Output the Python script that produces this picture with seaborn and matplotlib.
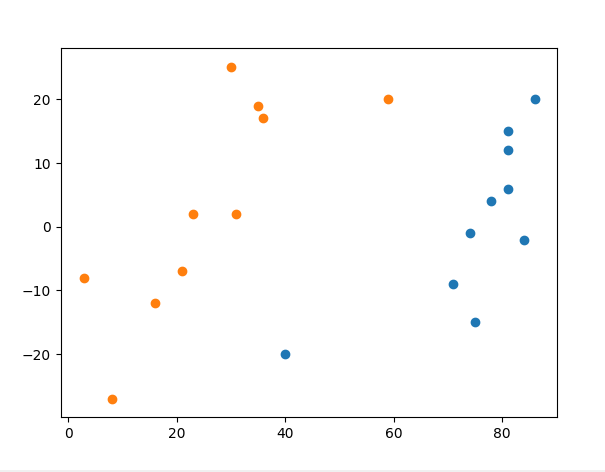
import matplotlib
matplotlib.use("Agg")
import matplotlib.pyplot as plt
import seaborn as sns
import pandas as pd

# blue group
blue_x = [40, 71, 74, 75, 78, 81, 81, 81, 84, 86]
blue_y = [-20, -9, -1, -15, 4, 15, 12, 6, -2, 20]
# orange group
orange_x = [3, 8, 16, 21, 23, 30, 31, 35, 36, 59]
orange_y = [-8, -27, -12, -7, 2, 25, 2, 19, 17, 20]

df_blue = pd.DataFrame({'x': blue_x, 'y': blue_y})
df_orange = pd.DataFrame({'x': orange_x, 'y': orange_y})

W, H = 605, 472
fig = plt.figure(figsize=(W / 100, H / 100), dpi=100)
ax = fig.add_axes([60.5 / W, (H - 417.3) / H, 496 / W, 369.3 / H])

sns.scatterplot(data=df_blue, x='x', y='y', color='#1f77b4', edgecolor='#1f77b4',
                s=36, linewidth=1, ax=ax)
sns.scatterplot(data=df_orange, x='x', y='y', color='#ff7f0e', edgecolor='#ff7f0e',
                s=36, linewidth=1, ax=ax)
ax.set_xlabel('')
ax.set_ylabel('')
ax.set_xlim(-1.4, 90.0)
ax.set_ylim(-29.9, 28.05)
ax.set_xticks([0, 20, 40, 60, 80])
ax.set_yticks([-20, -10, 0, 10, 20])

# thin grey strip at the bottom edge of the screenshot
fig.patches.append(plt.Rectangle((0, 0), 1, 2.5 / H, transform=fig.transFigure,
                                 facecolor='#f0f0f0', edgecolor='none', zorder=-1))

fig.savefig('out.png', dpi=100)
